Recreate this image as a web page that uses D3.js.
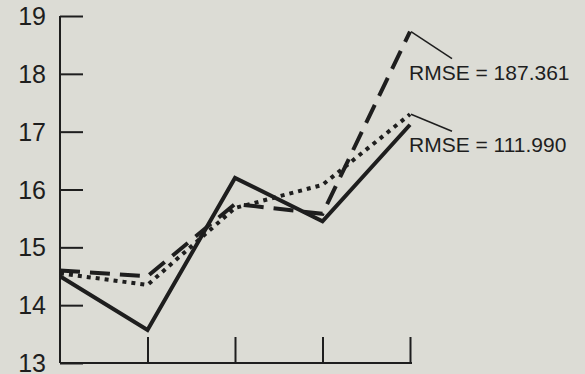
<!DOCTYPE html>
<html lang="en">
<head>
    <meta charset="UTF-8">
    <title>RMSE comparison</title>
    <script src="https://cdnjs.cloudflare.com/ajax/libs/d3/7.8.5/d3.min.js"></script>
    <style>
        * { margin: 0; padding: 0; box-sizing: border-box; }
        body { background-color: #dcdcd5; width: 585px; height: 374px; overflow: hidden; }
        svg { display: block; font-family: 'Liberation Sans', Arial, sans-serif; }
        .ylab { font-size: 25px; fill: #1e1e1e; }
        .note { font-size: 21px; fill: #1e1e1e; }
    </style>
</head>
<body>
    <div id="chart"></div>
    <script>
        // data
        const periods = [0, 1, 2, 3, 4];
        const solidSeries = [14.5, 13.57, 16.2, 15.45, 17.12];
        const dashedSeries = [14.6, 14.5, 15.75, 15.58, 18.73];
        const dottedSeries = [14.55, 14.35, 15.68, 16.08, 17.3];
        const yTicks = [13, 14, 15, 16, 17, 18, 19];
        const notes = [
            { text: 'RMSE = 187.361', series: 'dashed' },
            { text: 'RMSE = 111.990', series: 'dotted' }
        ];

        const width = 585, height = 374;
        const ink = '#1e1e1e';

        const svg = d3.select('#chart')
            .append('svg')
            .attr('width', width)
            .attr('height', height);

        const x = d3.scaleLinear().domain([0, 4]).range([60, 410]);
        const y = d3.scaleLinear().domain([13, 19]).range([363, 16]);

        // y axis (ticks point inward)
        const yAxis = svg.append('g')
            .attr('transform', `translate(${x(0)},0)`)
            .call(d3.axisRight(y).tickValues(yTicks).tickSize(23).tickFormat(''));
        yAxis.select('.domain').remove();
        yAxis.selectAll('line').attr('stroke', ink).attr('stroke-width', 2);
        svg.append('line')
            .attr('x1', x(0)).attr('x2', x(0))
            .attr('y1', y(19)).attr('y2', y(13))
            .attr('stroke', ink).attr('stroke-width', 2);

        // the bottom label (13) is clipped by the page edge, as in the original
        svg.selectAll('.ylab')
            .data(yTicks)
            .enter()
            .append('text')
            .attr('class', 'ylab')
            .attr('x', 46)
            .attr('y', d => y(d))
            .attr('dy', '0.36em')
            .attr('text-anchor', 'end')
            .text(d => d);

        // x axis (ticks point up)
        const xAxis = svg.append('g')
            .attr('transform', `translate(0,${y(13)})`)
            .call(d3.axisTop(x).tickValues(periods.slice(1)).tickSize(26).tickFormat(''));
        xAxis.select('.domain').remove();
        xAxis.selectAll('line').attr('stroke', ink).attr('stroke-width', 2);
        svg.append('line')
            .attr('x1', x(0)).attr('x2', x(4) + 2)
            .attr('y1', y(13)).attr('y2', y(13))
            .attr('stroke', ink).attr('stroke-width', 2);

        const line = d3.line()
            .x((d, i) => x(periods[i]))
            .y(d => y(d));

        const series = {
            solid: { values: solidSeries, dash: null },
            dashed: { values: dashedSeries, dash: '20,10' },
            dotted: { values: dottedSeries, dash: '4,5' }
        };

        ['solid', 'dashed', 'dotted'].forEach(k => {
            svg.append('path')
                .datum(series[k].values)
                .attr('d', line)
                .attr('fill', 'none')
                .attr('stroke', ink)
                .attr('stroke-width', 4)
                .attr('stroke-linejoin', 'miter')
                .attr('stroke-dasharray', series[k].dash);
        });

        // RMSE notes with pointer lines
        notes.forEach((n, i) => {
            const vals = series[n.series].values;
            const ex = x(4), ey = y(vals[vals.length - 1]);
            const drop = i === 0 ? 27 : 17;
            svg.append('line')
                .attr('x1', ex + 1).attr('y1', ey)
                .attr('x2', ex + 42).attr('y2', ey + drop)
                .attr('stroke', ink).attr('stroke-width', 1.5);
            svg.append('text')
                .attr('class', 'note')
                .attr('x', ex - 1)
                .attr('y', ey + (i === 0 ? 48 : 38))
                .text(n.text);
        });
    </script>
</body>
</html>
